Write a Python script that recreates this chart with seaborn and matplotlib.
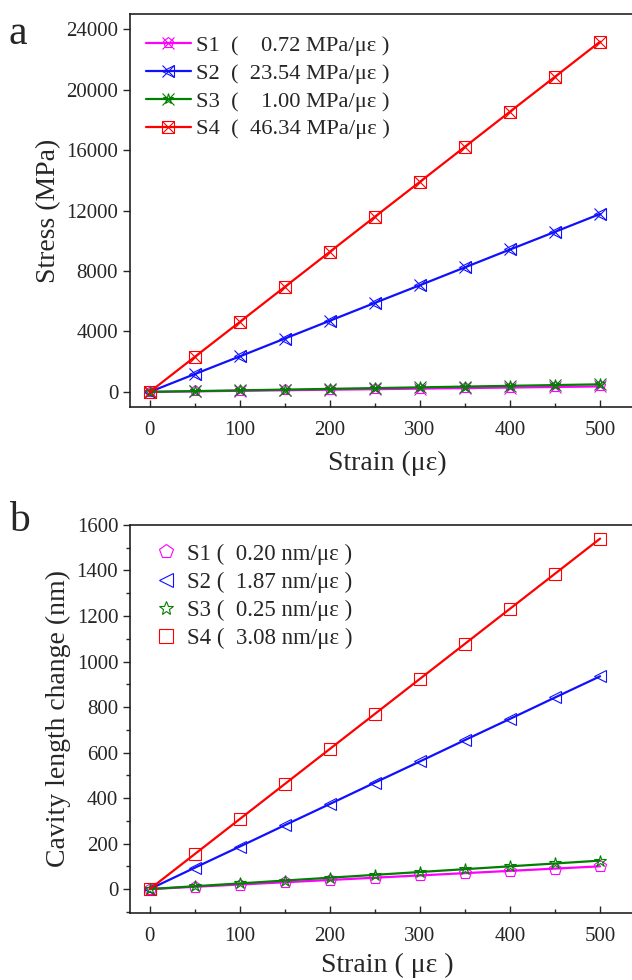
import matplotlib
matplotlib.use("Agg")
import matplotlib.pyplot as plt
import seaborn as sns
from matplotlib.ticker import MultipleLocator
from matplotlib.legend_handler import HandlerTuple

sns.set_style("ticks")
plt.rcParams['font.family'] = ['Liberation Serif', 'DejaVu Serif']

# data
strain = [0, 50, 100, 150, 200, 250, 300, 350, 400, 450, 500]
series = ["S1", "S2", "S3", "S4"]
colors = ["#ff00ff", "#1010ff", "#008000", "#ff0000"]
markers = ["p", "<", "*", "s"]

stress_s1 = [0, 36, 72, 108, 144, 180, 216, 252, 288, 324, 360]
stress_s2 = [0, 1180, 2350, 3530, 4710, 5890, 7060, 8240, 9420, 10590, 11770]
stress_s3 = [0, 50, 100, 150, 200, 250, 300, 350, 400, 450, 500]
stress_s4 = [0, 2320, 4630, 6950, 9270, 11590, 13900, 16220, 18540, 20850, 23170]
stress_labels = ["S1  (    0.72 MPa/με )", "S2  (  23.54 MPa/με )",
                 "S3  (    1.00 MPa/με )", "S4  (  46.34 MPa/με )"]

cavity_s1 = [0, 10, 20, 30, 40, 50, 60, 70, 80, 90, 100]
cavity_s2 = [0, 94, 187, 281, 374, 468, 561, 655, 748, 842, 935]
cavity_s3 = [0, 12.5, 25, 37.5, 50, 62.5, 75, 87.5, 100, 112.5, 125]
cavity_s4 = [0, 154, 308, 462, 616, 770, 924, 1078, 1232, 1386, 1540]
cavity_labels = ["S1 (  0.20 nm/με )", "S2 (  1.87 nm/με )",
                 "S3 (  0.25 nm/με )", "S4 (  3.08 nm/με )"]

stress = [stress_s1, stress_s2, stress_s3, stress_s4]
cavity = [cavity_s1, cavity_s2, cavity_s3, cavity_s4]

fig = plt.figure(figsize=(6.32, 9.8), dpi=100)
ax_a = fig.add_axes([0.2057, 0.5847, 0.815, 0.401])
ax_b = fig.add_axes([0.2057, 0.0684, 0.815, 0.3959])

# panel a
handles_a = []
for vals, c, m in zip(stress, colors, markers):
    sns.lineplot(x=strain, y=vals, ax=ax_a, color=c, lw=1.6, marker=m,
                 markersize=8, markerfacecolor="none", markeredgecolor=c,
                 markeredgewidth=0.8)
    ln = ax_a.lines[-1]
    ax_a.plot(strain, vals, ls="none", marker="x", ms=9, mec=c, mew=0.8)
    handles_a.append((ln, ax_a.lines[-1]))

ax_a.set_xlim(-22, 550)
ax_a.set_ylim(-1000, 25000)
ax_a.set_yticks(range(0, 24001, 4000))
ax_a.set_xticks(range(0, 501, 100))
ax_a.xaxis.set_minor_locator(MultipleLocator(50))
ax_a.set_xlabel("Strain (με)", fontsize=20, labelpad=8)
ax_a.set_ylabel("Stress (MPa)", fontsize=20)
ax_a.legend(handles_a, stress_labels, handler_map={tuple: HandlerTuple(ndivide=1)},
            loc="upper left", frameon=False, fontsize=16.2, handlelength=2.0,
            handletextpad=0.25, labelspacing=0.32, borderaxespad=0.3,
            bbox_to_anchor=(0.0, 0.987))
ax_a.text(-0.235, 1.0, "a", transform=ax_a.transAxes, fontsize=30, va="top")

# panel b
handles_b = []
for vals, c, m in zip(cavity, colors, markers):
    sns.lineplot(x=strain, y=vals, ax=ax_b, color=c, lw=1.6, marker=m,
                 markersize=9, markerfacecolor="none", markeredgecolor=c,
                 markeredgewidth=0.8)
    h, = ax_b.plot([], [], ls="none", marker=m, ms=10, mfc="none", mec=c, mew=0.8)
    handles_b.append(h)

ax_b.set_xlim(-22, 550)
ax_b.set_ylim(-105, 1600)
ax_b.set_yticks(range(0, 1601, 200))
ax_b.set_xticks(range(0, 501, 100))
ax_b.yaxis.set_minor_locator(MultipleLocator(100))
ax_b.xaxis.set_minor_locator(MultipleLocator(50))
ax_b.set_xlabel("Strain ( με )", fontsize=20, labelpad=5)
ax_b.set_ylabel("Cavity length change (nm)", fontsize=20)
ax_b.legend(handles_b, cavity_labels, loc="upper left", frameon=False,
            fontsize=16.5, handlelength=1.0, handletextpad=0.4,
            labelspacing=0.3, borderaxespad=0.4, bbox_to_anchor=(0.013, 1.0))
ax_b.text(-0.235, 1.06, "b", transform=ax_b.transAxes, fontsize=30, va="top")

for ax in (ax_a, ax_b):
    for s in ax.spines.values():
        s.set_linewidth(1.2)
        s.set_color("#222222")
    ax.tick_params(axis="x", which="both", direction="in", labelsize=15, pad=10)
    ax.tick_params(axis="y", which="both", direction="out", labelsize=15)
    ax.tick_params(which="major", length=5, width=1)
    ax.tick_params(which="minor", length=3, width=1)

fig.savefig("out.png", dpi=100)
